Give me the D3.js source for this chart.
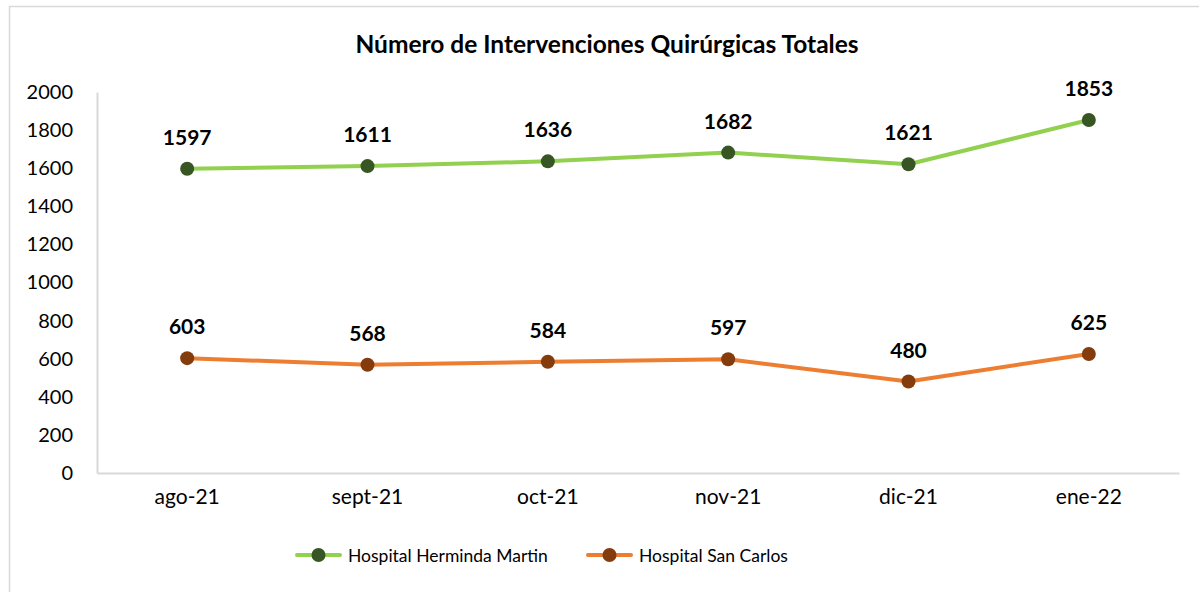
<!DOCTYPE html>
<html>
<head>
    <meta charset="utf-8">
    <style>
        body { margin: 0; background: #fff; }
        svg { display: block; font-family: Lato, 'Open Sans', sans-serif; }
    </style>
</head>
<body>
    <svg width="1199" height="592"></svg>

<script src="https://d3js.org/d3.v7.min.js"></script>
<script>
    // data
    let months = ["ago-21", "sept-21", "oct-21", "nov-21", "dic-21", "ene-22"]
    let hermindaMartin = [1597, 1611, 1636, 1682, 1621, 1853]
    let sanCarlos = [603, 568, 584, 597, 480, 625]
    let yTicks = [0, 200, 400, 600, 800, 1000, 1200, 1400, 1600, 1800, 2000]

    let series = [
        { name: "Hospital Herminda Martin", values: hermindaMartin, line: "#92D050", dot: "#375623" },
        { name: "Hospital San Carlos", values: sanCarlos, line: "#ED7D31", dot: "#843C0C" }
    ]

    let svg = d3.select("svg")

    // chart frame
    svg.append("rect")
        .attr("x", 9.5).attr("y", 6.5)
        .attr("width", 1210).attr("height", 600)
        .attr("fill", "none")
        .attr("stroke", "#d9d9d9")
        .attr("stroke-width", 1.5)

    let plotLeft = 97, plotRight = 1179, plotTop = 92, plotBottom = 473

    let x = d3.scaleBand().domain(months).range([plotLeft, plotRight])
    let y = d3.scaleLinear().domain([0, 2000]).range([plotBottom, plotTop])

    svg.append("text")
        .attr("x", 607).attr("y", 53)
        .attr("text-anchor", "middle")
        .style("font-weight", "bold")
        .style("font-size", "24.5px")
        .text("Número de Intervenciones Quirúrgicas Totales")

    // y axis
    let yAxis = svg.append("g")
        .attr("transform", `translate(${plotLeft},0)`)
        .call(d3.axisLeft(y).tickValues(yTicks).tickFormat(d3.format("d")).tickSize(0).tickPadding(24))
    yAxis.select(".domain").attr("stroke", "#d9d9d9").attr("stroke-width", 2)
    yAxis.selectAll("text").style("font-size", "20px").style("font-family", "Lato").attr("fill", "#000")

    // x axis
    let xAxis = svg.append("g")
        .attr("transform", `translate(0,${plotBottom})`)
        .call(d3.axisBottom(x).tickSize(0).tickPadding(16))
    xAxis.select(".domain").attr("stroke", "#d9d9d9").attr("stroke-width", 2)
    xAxis.selectAll("text").style("font-size", "21px").style("font-family", "Lato").attr("fill", "#000")

    let cx = (d, i) => x(months[i]) + x.bandwidth() / 2

    let line = d3.line()
        .x((d, i) => cx(d, i))
        .y(d => y(d))

    series.forEach(s => {
        svg.append("path")
            .datum(s.values)
            .attr("d", line)
            .attr("fill", "none")
            .attr("stroke", s.line)
            .attr("stroke-width", 4)
            .attr("stroke-linejoin", "round")

        svg.selectAll(null)
            .data(s.values)
            .join("circle")
            .attr("cx", cx)
            .attr("cy", d => y(d))
            .attr("r", 7)
            .attr("fill", s.dot)

        svg.selectAll(null)
            .data(s.values)
            .join("text")
            .attr("x", cx)
            .attr("y", d => y(d) - 24)
            .attr("text-anchor", "middle")
            .style("font-weight", "bold")
            .style("font-size", "21px")
            .text(d => d)
    })

    // legend
    let legendX = [297, 588]
    let legend = svg.selectAll(".legend")
        .data(series)
        .join("g")
        .attr("class", "legend")
        .attr("transform", (d, i) => `translate(${legendX[i]},555)`)

    legend.append("line")
        .attr("x1", 0).attr("x2", 43)
        .attr("stroke", d => d.line)
        .attr("stroke-width", 4)
        .attr("stroke-linecap", "round")
    legend.append("circle")
        .attr("cx", 21.5).attr("r", 7)
        .attr("fill", d => d.dot)
    legend.append("text")
        .attr("x", 51).attr("y", 7)
        .style("font-size", "17.5px")
        .text(d => d.name)
</script>
</body>
</html>
